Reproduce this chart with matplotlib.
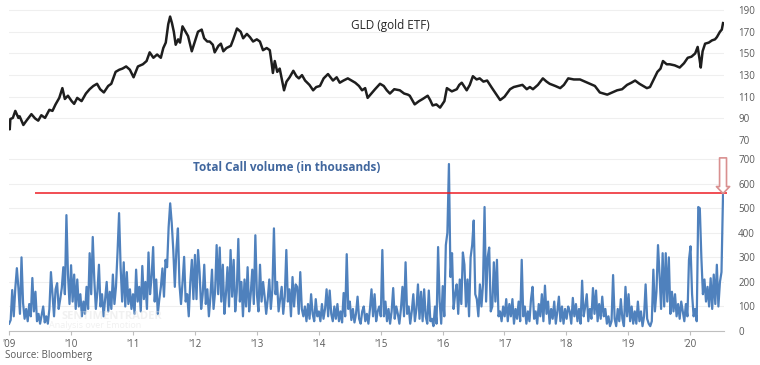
import numpy as np
import matplotlib
matplotlib.use("Agg")
import matplotlib.pyplot as plt

plt.rcParams['font.family'] = ['Open Sans', 'DejaVu Sans']

# GLD price (decimal year, price)
gld_t = [2009.00, 2009.01, 2009.02, 2009.06, 2009.10, 2009.15, 2009.17, 2009.23, 2009.28, 2009.36,
         2009.42, 2009.47, 2009.52, 2009.58, 2009.65, 2009.70, 2009.75, 2009.81, 2009.86, 2009.90,
         2009.95, 2010.01, 2010.05, 2010.10, 2010.17, 2010.24, 2010.30, 2010.36, 2010.42, 2010.47,
         2010.53, 2010.60, 2010.65, 2010.72, 2010.78, 2010.83, 2010.89, 2010.95, 2011.01, 2011.08,
         2011.16, 2011.22, 2011.27, 2011.33, 2011.39, 2011.45, 2011.49, 2011.53, 2011.57, 2011.60,
         2011.63, 2011.66, 2011.69, 2011.73, 2011.76, 2011.80, 2011.85, 2011.89, 2011.95, 2012.00,
         2012.05, 2012.11, 2012.15, 2012.20, 2012.24, 2012.29, 2012.32, 2012.38, 2012.42, 2012.46,
         2012.51, 2012.58, 2012.62, 2012.68, 2012.74, 2012.78, 2012.84, 2012.89, 2012.94, 2013.00,
         2013.05, 2013.10, 2013.16, 2013.21, 2013.24, 2013.26, 2013.29, 2013.33, 2013.37, 2013.42,
         2013.44, 2013.48, 2013.53, 2013.59, 2013.64, 2013.68, 2013.73, 2013.78, 2013.85, 2013.91,
         2013.96, 2014.02, 2014.08, 2014.15, 2014.19, 2014.23, 2014.29, 2014.34, 2014.40, 2014.47,
         2014.53, 2014.59, 2014.65, 2014.70, 2014.75, 2014.79, 2014.85, 2014.91, 2014.99, 2015.05,
         2015.10, 2015.15, 2015.22, 2015.31, 2015.38, 2015.44, 2015.47, 2015.55, 2015.62, 2015.68,
         2015.76, 2015.80, 2015.84, 2015.90, 2015.96, 2016.03, 2016.07, 2016.15, 2016.23, 2016.27,
         2016.31, 2016.39, 2016.44, 2016.49, 2016.55, 2016.60, 2016.66, 2016.72, 2016.80, 2016.86,
         2016.93, 2017.00, 2017.09, 2017.15, 2017.22, 2017.29, 2017.36, 2017.41, 2017.46, 2017.54,
         2017.62, 2017.68, 2017.73, 2017.82, 2017.90, 2017.96, 2018.03, 2018.12, 2018.22, 2018.30,
         2018.38, 2018.46, 2018.54, 2018.60, 2018.66, 2018.74, 2018.82, 2018.90, 2018.98, 2019.05,
         2019.11, 2019.18, 2019.24, 2019.30, 2019.35, 2019.41, 2019.47, 2019.52, 2019.56, 2019.62,
         2019.67, 2019.75, 2019.83, 2019.90, 2019.96, 2020.02, 2020.08, 2020.12, 2020.15, 2020.17,
         2020.20, 2020.24, 2020.30, 2020.35, 2020.40, 2020.43, 2020.48, 2020.51, 2020.53]
gld_px = [84, 80, 89.5, 90.5, 97, 90.5, 92, 84, 88, 94,
          90, 88, 93, 90.5, 98, 97, 103, 109, 118, 108,
          111, 106, 103.5, 109, 106, 113, 117, 120, 122, 117,
          114, 120, 122, 133, 135, 136, 138, 135, 128, 138,
          140, 143, 151, 146, 149, 146, 155, 160, 177, 184,
          178, 170, 158, 163, 160, 175, 170, 166, 152, 161,
          170, 172, 164, 161, 161, 158, 151, 157, 159, 152,
          155, 157, 163, 173, 170, 164, 168, 165, 161, 163,
          161, 153, 155, 153, 141, 132, 143, 133, 136, 122,
          116, 124, 128, 134, 129, 127, 130, 125, 121, 116,
          119, 120, 127, 131, 128, 125, 128, 123, 125, 127,
          125, 123, 120, 116, 118, 109, 113, 117, 122, 120,
          116, 113, 117, 116, 113, 112, 111, 103, 106, 108,
          111, 107, 102, 103, 100, 106, 118, 115, 117, 121,
          123, 116, 121, 129, 126, 127, 124, 125, 118, 113,
          107, 110, 117, 119, 120, 121, 117, 119, 117, 121,
          127, 124, 122, 120, 118, 121, 127, 126, 126, 124,
          122, 120, 114, 113, 112, 114, 116, 117, 121, 123,
          125, 122, 120, 118, 119, 126, 133, 136, 143, 140,
          140, 139, 137, 141, 146, 147, 150, 156, 145, 137,
          152, 159, 160, 162, 163, 165, 170, 172, 178]

# Total call volume (thousands), roughly 40 readings per year
vol_2009 = [30, 45, 167, 60, 175, 256, 175, 70, 300, 114, 50, 90, 40, 110, 60, 216, 80, 160, 40, 70,
            30, 65, 100, 35, 60, 30, 90, 240, 150, 60, 170, 195, 90, 130, 175, 260, 150, 472, 230, 110]
vol_2010 = [268, 120, 230, 90, 210, 100, 150, 60, 120, 70, 180, 90, 317, 150, 383, 210, 90, 160, 270, 100,
            150, 60, 130, 200, 80, 160, 90, 230, 110, 180, 320, 480, 260, 120, 280, 100, 240, 110, 170, 90]
vol_2011 = [150, 70, 250, 120, 180, 80, 265, 130, 200, 90, 320, 150, 220, 342, 120, 210, 70, 130, 180, 255,
            140, 290, 260, 423, 520, 440, 330, 180, 330, 418, 190, 110, 200, 302, 120, 150, 60, 200, 290, 130]
vol_2012 = [310, 130, 330, 240, 90, 150, 270, 110, 170, 60, 140, 250, 90, 160, 350, 150, 340, 120, 270, 70,
            150, 260, 100, 330, 140, 290, 80, 160, 375, 120, 200, 60, 210, 100, 260, 80, 150, 250, 110, 390]
vol_2013 = [150, 80, 270, 120, 200, 140, 70, 130, 210, 90, 170, 418, 150, 200, 80, 130, 180, 70, 140, 330,
            120, 170, 60, 220, 100, 190, 180, 70, 240, 90, 60, 100, 40, 110, 50, 150, 70, 40, 130, 60]
vol_2014 = [80, 40, 110, 50, 90, 170, 60, 165, 70, 40, 100, 50, 110, 40, 80, 35, 155, 60, 313, 90,
            120, 45, 90, 35, 70, 140, 50, 30, 80, 100, 40, 70, 30, 90, 170, 60, 150, 40, 80, 100]
vol_2015 = [60, 330, 60, 120, 40, 90, 30, 80, 175, 50, 100, 70, 30, 90, 180, 60, 280, 70, 100, 30,
            80, 150, 40, 90, 190, 50, 160, 40, 170, 60, 30, 165, 40, 50, 20, 100, 30, 342, 120, 30]
vol_2016 = [183, 60, 350, 400, 680, 220, 317, 90, 150, 190, 70, 210, 110, 320, 270, 100, 210, 60, 300, 350,
            450, 150, 130, 60, 190, 100, 190, 505, 120, 300, 340, 80, 100, 280, 120, 290, 60, 80, 40, 100]
vol_2017 = [60, 130, 40, 110, 60, 130, 30, 90, 50, 120, 40, 290, 60, 100, 30, 80, 40, 130, 180, 50,
            80, 30, 110, 60, 150, 40, 185, 70, 120, 30, 90, 50, 120, 30, 80, 140, 40, 100, 30, 90]
vol_2018 = [50, 100, 80, 30, 135, 60, 110, 40, 90, 30, 205, 60, 100, 150, 40, 90, 50, 175, 70, 165,
            40, 110, 50, 140, 60, 90, 30, 60, 20, 40, 228, 50, 20, 90, 40, 130, 50, 20, 180, 60]
vol_2019 = [150, 40, 100, 30, 80, 30, 120, 40, 80, 20, 60, 190, 50, 30, 20, 40, 250, 80, 160, 350,
            230, 90, 317, 100, 317, 120, 300, 70, 160, 80, 150, 60, 110, 50, 120, 80, 40, 110, 60, 290]
vol_2020 = [345, 150, 60, 90, 40, 505, 500, 300, 150, 210, 120, 180, 100, 215, 90, 230, 110, 270, 100, 200,
            240, 560]

call_vol = (vol_2009 + vol_2010 + vol_2011 + vol_2012 + vol_2013 + vol_2014 + vol_2015
            + vol_2016 + vol_2017 + vol_2018 + vol_2019 + vol_2020)
vol_t = np.linspace(2009.0, 2020.53, len(call_vol))

threshold = 560
years = list(range(2009, 2021))
year_labels = ["'%02d" % (y % 100) for y in years]
gld_ticks = [70, 90, 110, 130, 150, 170, 190]
vol_ticks = [0, 100, 200, 300, 400, 500, 600, 700]

grey = '#595959'
grid_c = '#efefef'
blue = '#4f81bd'

fig = plt.figure(figsize=(7.6, 3.65), dpi=100)
ax1 = fig.add_axes([0.012, 0.616, 0.941, 0.384])
ax2 = fig.add_axes([0.012, 0.093, 0.941, 0.498])

for ax in (ax1, ax2):
    ax.set_xlim(2009.0, 2020.55)
    for s in ax.spines.values():
        s.set_visible(False)
    ax.yaxis.tick_right()
    ax.tick_params(axis='y', length=0, labelsize=7, labelcolor=grey, pad=10)
    ax.grid(axis='y', color=grid_c, lw=0.8)
    ax.set_axisbelow(True)

# top panel: GLD
ax1.plot(gld_t, gld_px, color='#1e1e1e', lw=1.8, solid_joinstyle='round')
ax1.set_ylim(70, 199.3)
ax1.set_yticks(gld_ticks)
ax1.set_xticks([])
ax1.text(2014.52, 176, 'GLD (gold ETF)', fontsize=8.5, color='#262626', va='center')

# bottom panel: call volume
ax2.plot(vol_t, call_vol, color=blue, lw=1.6)
ax2.set_ylim(0, 740)
ax2.set_yticks(vol_ticks)
ax2.set_xticks(years)
ax2.set_xticklabels(year_labels)
ax2.spines['bottom'].set_visible(True)
ax2.spines['bottom'].set_color('#bfbfbf')
ax2.tick_params(axis='x', length=3, color='#bfbfbf', labelsize=7, labelcolor=grey, pad=3)
ax2.hlines(threshold, 2009.42, 2020.6, color='#ee1c24', lw=1.1, clip_on=False, zorder=3)
ax2.text(2011.97, 667, 'Total Call volume (in thousands)', fontsize=8.5, fontweight='bold',
         color='#41679e', va='center')
ax2.annotate('', xy=(2020.53, threshold), xytext=(2020.53, 705),
             arrowprops=dict(arrowstyle='simple,tail_width=0.5,head_width=0.95,head_length=0.5',
                             mutation_scale=10, fc='white', ec='#d99090', lw=1.2,
                             shrinkA=0, shrinkB=0), annotation_clip=False, zorder=4)

# faint watermark
ax2.text(2009.85, 50, 'SENTIMENTRADER', fontsize=8, color='#e0e0e0', alpha=0.45,
         fontweight='bold', zorder=5)
ax2.text(2009.65, 12, 'Analysis over Emotion', fontsize=6.5, color='#e0e0e0', alpha=0.45, zorder=5)

fig.text(0.007, 0.027, 'Source: Bloomberg', fontsize=7, color=grey, va='center')

fig.savefig('out.png', dpi=100)
